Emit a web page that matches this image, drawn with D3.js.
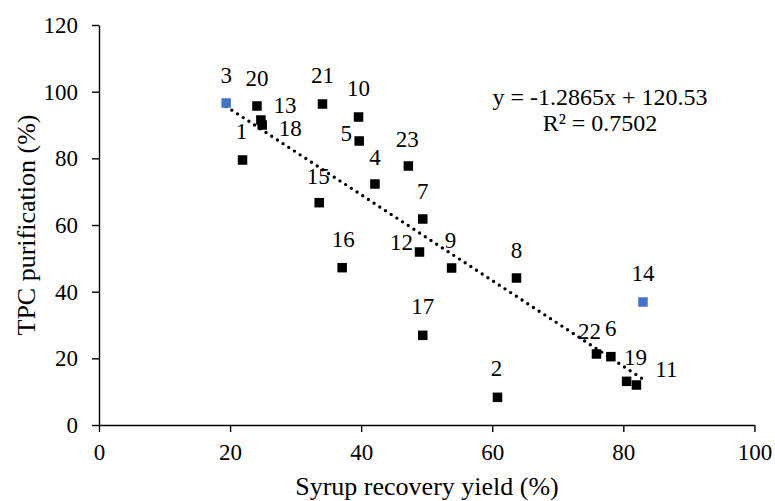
<!DOCTYPE html>
<html>
<head>
<meta charset="utf-8">
<script src="https://cdn.jsdelivr.net/npm/d3@7"></script>
<style>
  body { margin: 0; background: #fff; }
  svg text { font-family: "Liberation Serif", "Times New Roman", serif; fill: #000; }
</style>
</head>
<body>
<div id="chart"></div>
<script>
// sample numbers, x = syrup recovery yield, y = TPC purification
const ids    = [3, 20, 13, 18, 1, 21, 10, 5, 23, 4, 15, 7, 12, 9, 16, 8, 14, 17, 22, 6, 19, 11, 2];
const yieldX = [19.4, 24.1, 24.7, 24.9, 21.9, 34.1, 39.6, 39.7, 47.2, 42.1, 33.6, 49.4, 48.9, 53.8, 37.1, 63.7, 83.0, 49.4, 75.9, 78.1, 80.5, 82.0, 60.8];
const tpcY   = [96.6, 95.7, 91.5, 90.0, 79.5, 96.3, 92.4, 85.2, 77.7, 72.3, 66.7, 61.8, 51.9, 47.1, 47.2, 44.1, 36.9, 26.9, 21.3, 20.5, 13.1, 12.0, 8.3];
const highlighted = [3, 14];   // drawn in blue

const xTicks = [0, 20, 40, 60, 80, 100];
const yTicks = [0, 20, 40, 60, 80, 100, 120];
const slope = -1.2865, intercept = 120.53;
const eqLines = ["y = -1.2865x + 120.53", "R² = 0.7502"];

// label offsets (px) from each marker, as dragged in the original
const labelOffset = {
  3: [0, -28], 20: [0, -28], 13: [24, -15], 18: [28, 3], 1: [-1, -29],
  21: [0, -29], 10: [0, -29], 5: [-13, -8], 23: [-1, -27], 4: [0, -27],
  15: [-1, -26], 7: [0, -28], 12: [-18, -10], 9: [-1, -28], 16: [1, -28],
  8: [0, -28], 14: [0, -29], 17: [0, -29], 22: [-7, -23], 6: [0, -28],
  19: [9, -24], 11: [30, -16], 2: [-1, -29]
};

const W = 775, H = 501;
const m = { left: 99, right: 20.6, top: 25, bottom: 76 };

const svg = d3.select("#chart").append("svg")
  .attr("width", W)
  .attr("height", H);

const x = d3.scaleLinear().domain([0, 100]).range([m.left, W - m.right]);
const y = d3.scaleLinear().domain([0, 120]).range([H - m.bottom, m.top]);

const data = ids.map((id, i) => ({ id: id, x: yieldX[i], y: tpcY[i] }));

// axes
const xAxis = svg.append("g")
  .attr("transform", `translate(0, ${y(0)})`)
  .call(d3.axisBottom(x).tickValues(xTicks).tickSize(7).tickPadding(12).tickSizeOuter(0));

const yAxis = svg.append("g")
  .attr("transform", `translate(${x(0)}, 0)`)
  .call(d3.axisLeft(y).tickValues(yTicks).tickSize(7).tickPadding(14).tickSizeOuter(0));

[xAxis, yAxis].forEach(g => {
  g.selectAll("path, line").attr("stroke", "#000").attr("stroke-width", 1.4);
  g.selectAll("text").style("font-size", "23px").attr("fill", "#000");
});

// trend line
const xr = d3.extent(yieldX);
svg.append("line")
  .attr("x1", x(xr[0])).attr("y1", y(slope * xr[0] + intercept))
  .attr("x2", x(xr[1])).attr("y2", y(slope * xr[1] + intercept))
  .attr("stroke", "#000")
  .attr("stroke-width", 3.4)
  .attr("stroke-linecap", "round")
  .attr("stroke-dasharray", "0 6.8");

// markers
const s = 9.5;
svg.selectAll("rect.pt")
  .data(data)
  .enter()
  .append("rect")
  .attr("class", "pt")
  .attr("x", d => x(d.x) - s / 2)
  .attr("y", d => y(d.y) - s / 2)
  .attr("width", s)
  .attr("height", s)
  .attr("fill", d => highlighted.includes(d.id) ? "#4472C4" : "#000");

// point labels
svg.selectAll("text.lbl")
  .data(data)
  .enter()
  .append("text")
  .attr("class", "lbl")
  .attr("x", d => x(d.x) + labelOffset[d.id][0])
  .attr("y", d => y(d.y) + labelOffset[d.id][1])
  .attr("text-anchor", "middle")
  .attr("dominant-baseline", "central")
  .style("font-size", "23px")
  .text(d => d.id);

// equation
svg.selectAll("text.eq")
  .data(eqLines)
  .enter()
  .append("text")
  .attr("class", "eq")
  .attr("x", 600)
  .attr("y", (d, i) => 97 + i * 26)
  .attr("text-anchor", "middle")
  .attr("dominant-baseline", "central")
  .style("font-size", "24px")
  .text(d => d);

// axis titles
svg.append("text")
  .attr("x", 427)
  .attr("y", 486)
  .attr("text-anchor", "middle")
  .attr("dominant-baseline", "central")
  .style("font-size", "26px")
  .text("Syrup recovery yield (%)");

svg.append("text")
  .attr("transform", `translate(26, ${(y(0) + y(120)) / 2}) rotate(-90)`)
  .attr("text-anchor", "middle")
  .attr("dominant-baseline", "central")
  .style("font-size", "26px")
  .text("TPC purification (%)");
</script>
</body>
</html>
